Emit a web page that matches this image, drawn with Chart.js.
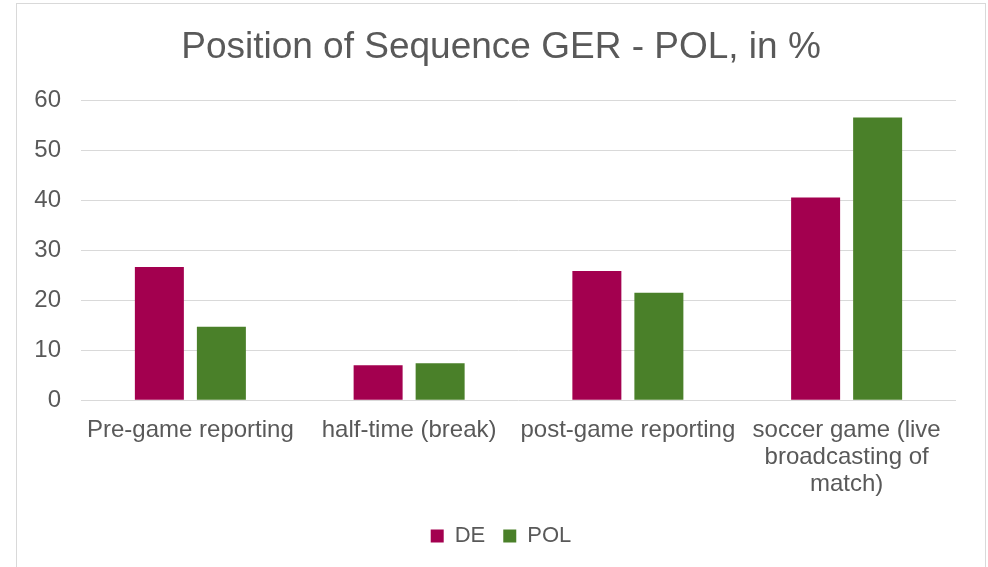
<!DOCTYPE html>
<html>
<head>
<meta charset="utf-8">
<script src="https://cdn.jsdelivr.net/npm/chart.js@4/dist/chart.umd.min.js"></script>
<style>
    html, body { margin: 0; padding: 0; background: #ffffff; overflow: hidden; }
    #frame {
        position: absolute; left: 16px; top: 3px;
        width: 968px; height: 620px;
        border: 1px solid #d9d9d9;
    }
    #wrap { position: relative; width: 968px; height: 563px; }
</style>
</head>
<body>
<div id="frame"><div id="wrap"><canvas id="seq"></canvas></div></div>
<script>
const categories = [
    "Pre-game reporting",
    "half-time (break)",
    "post-game reporting",
    ["soccer game (live", "broadcasting of", "match)"]
];
const de = [26.7, 7.0, 25.9, 40.6];
const pol = [14.7, 7.4, 21.5, 56.6];
const yTicks = [0, 10, 20, 30, 40, 50, 60];

const textColor = "#595959";
const gridColor = "#d9d9d9";

// title and legend are centred on the whole frame, not on the plot area
const centerBlocks = {
    id: 'centerBlocks',
    afterLayout: function(chart) {
        if (chart.titleBlock) chart.titleBlock.left = 29;
        if (chart.legend) chart.legend.left = 29;
    }
};

const ctx = document.getElementById('seq');

const chart = new Chart(ctx, {
    type: 'bar',
    data: {
        labels: categories,
        datasets: [
        {
            label: "DE",
            data: de,
            backgroundColor: "#a3004f",
            borderWidth: 0
        },
        {
            label: "POL",
            data: pol,
            backgroundColor: "#4a8029",
            borderWidth: 0
        }
        ]
    },
    options: {
        responsive: true,
        maintainAspectRatio: false,
        animation: false,
        layout: { padding: { left: 0, right: 29, top: 0, bottom: 10 } },
        datasets: {
            bar: { categoryPercentage: 0.567, barPercentage: 0.79 }
        },
        plugins: {
            title: {
                display: true,
                text: "Position of Sequence GER - POL, in %",
                color: textColor,
                font: { family: "'Liberation Sans', Arial, sans-serif", size: 37, weight: 'normal' },
                padding: { top: 22, bottom: 30 }
            },
            legend: {
                position: 'bottom',
                labels: {
                    color: textColor,
                    boxWidth: 13,
                    boxHeight: 13,
                    padding: 18,
                    font: { family: "'Liberation Sans', Arial, sans-serif", size: 22 }
                }
            },
            tooltip: { enabled: false }
        },
        scales: {
            x: {
                grid: { display: false },
                border: { display: false },
                ticks: {
                    color: textColor,
                    maxRotation: 0,
                    autoSkip: false,
                    padding: 9,
                    font: { family: "'Liberation Sans', Arial, sans-serif", size: 24, lineHeight: 1.12 }
                }
            },
            y: {
                min: 0,
                max: 60,
                afterFit: function(scale) { scale.width = 64; },
                afterBuildTicks: function(scale) {
                    scale.ticks = yTicks.map(function(v) { return { value: v }; });
                },
                grid: { color: gridColor, lineWidth: 1, drawTicks: false },
                border: { display: false },
                ticks: {
                    color: textColor,
                    padding: 20,
                    font: { family: "'Liberation Sans', Arial, sans-serif", size: 24 }
                }
            }
        }
    },
    plugins: [centerBlocks]
});
</script>
</body>
</html>
